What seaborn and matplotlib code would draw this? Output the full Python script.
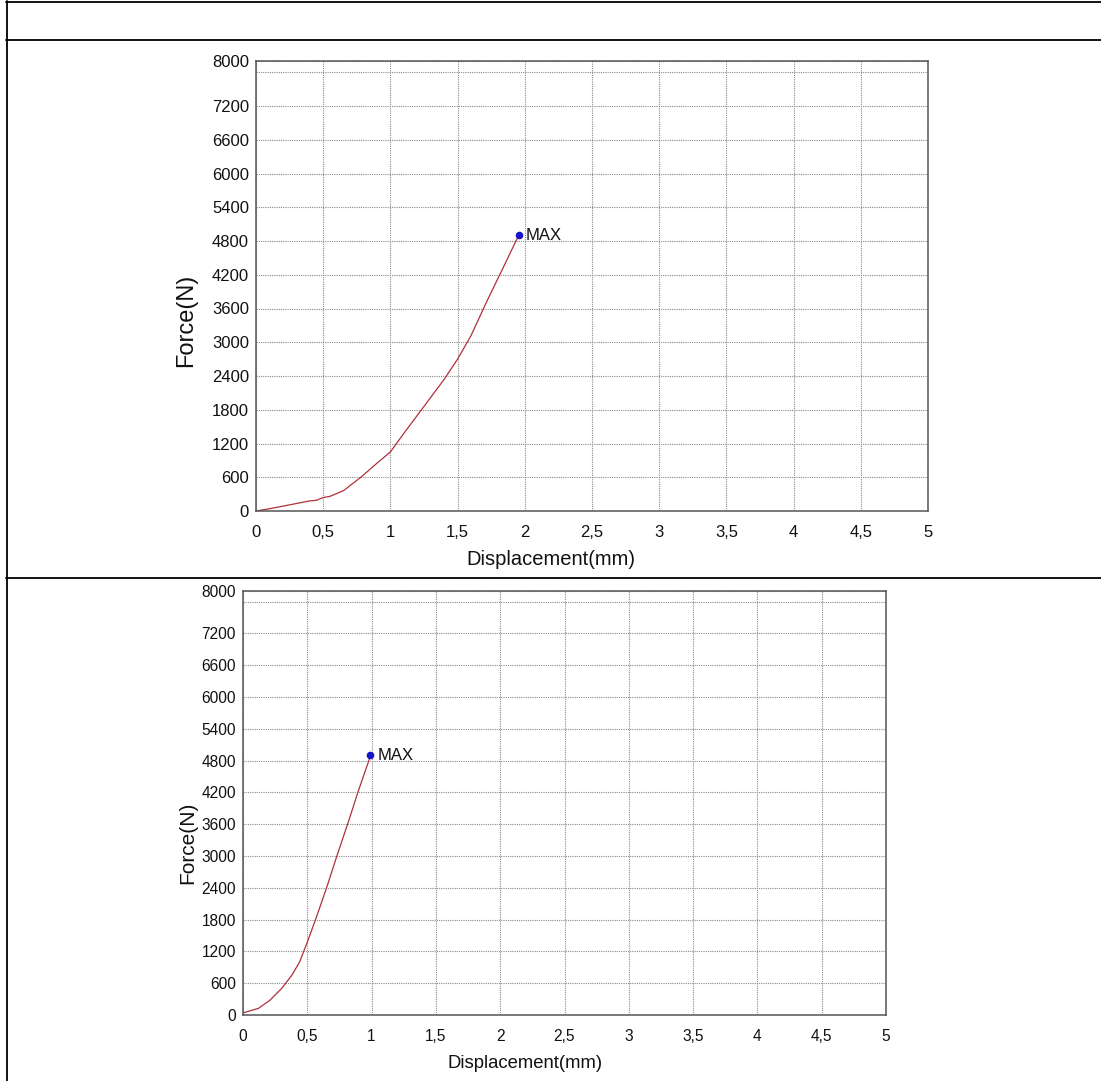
import numpy as np
import pandas as pd
import matplotlib
matplotlib.use("Agg")
import matplotlib.pyplot as plt
from matplotlib.lines import Line2D
import seaborn as sns

# ---- data ----
disp_1 = [0.0, 0.10, 0.23, 0.40, 0.45, 0.50, 0.55, 0.65, 0.78, 0.90, 1.00, 1.10,
          1.25, 1.40, 1.50, 1.60, 1.72, 1.85, 1.93, 1.955]
force_1 = [0, 40, 100, 180, 190, 240, 260, 360, 600, 850, 1050, 1380,
           1860, 2340, 2700, 3120, 3740, 4380, 4780, 4900]
max_1 = (1.955, 4900)

disp_2 = [0.0, 0.12, 0.21, 0.30, 0.38, 0.44, 0.50, 0.57, 0.65, 0.73, 0.82, 0.90, 0.98, 0.99]
force_2 = [40, 125, 280, 500, 750, 1000, 1375, 1840, 2400, 3000, 3650, 4250, 4810, 4900]
max_2 = (0.99, 4900)

y_tick_vals = [0, 600, 1200, 1800, 2400, 3000, 3600, 4200, 4800, 5400, 6000, 6600, 7200, 7800, 8000]
y_tick_labels = ["0", "600", "1200", "1800", "2400", "3000", "3600", "4200", "4800",
                 "5400", "6000", "6600", "7200", "", "8000"]
x_tick_vals = [0, 0.5, 1, 1.5, 2, 2.5, 3, 3.5, 4, 4.5, 5]
x_tick_labels = ["0", "0,5", "1", "1,5", "2", "2,5", "3", "3,5", "4", "4,5", "5"]

sns.set_theme(style="white")
plt.rcParams['font.family'] = ['Liberation Sans', 'DejaVu Sans']

W, H = 1101, 1081
fig = plt.figure(figsize=(W / 100, H / 100), dpi=100)
fig.patch.set_facecolor("white")

LINE_C = "#b0303a"
MARK_C = "#1414c8"
GRID_C = "#8a8a8a"
FRAME_C = "#555555"


def px_rect(l, t, r, b):
    return [l / W, 1 - b / H, (r - l) / W, (b - t) / H]


def make_chart(rect, disp, force, mx, tick_fs, xl_fs, yl_fs, xlab_pos, ylab_pos, xpad):
    ax = fig.add_axes(rect)
    df = pd.DataFrame({"Displacement": disp, "Force": force})
    sns.lineplot(data=df, x="Displacement", y="Force", ax=ax, color=LINE_C,
                 linewidth=0.9, sort=False, estimator=None)
    sns.scatterplot(x=[mx[0]], y=[mx[1]], ax=ax, color=MARK_C, s=30,
                    edgecolor=MARK_C, linewidth=0, zorder=5)
    ax.annotate("MAX", xy=mx, xytext=(5.3, 0), textcoords="offset points",
                va="center", ha="left", fontsize=12, color="#111111")
    ax.set_xlim(0, 5)
    ax.set_ylim(0, 8000)
    ax.set_xticks(x_tick_vals)
    ax.set_xticklabels(x_tick_labels)
    ax.set_yticks(y_tick_vals)
    ax.set_yticklabels(y_tick_labels)
    ax.tick_params(axis="both", which="both", length=0, labelsize=tick_fs, colors="#111111")
    ax.tick_params(axis="y", pad=5)
    ax.tick_params(axis="x", pad=xpad)
    ax.grid(True, which="major", axis="both", linestyle=(0, (1, 1)), color=GRID_C, linewidth=0.8)
    for s in ax.spines.values():
        s.set_color(FRAME_C)
        s.set_linewidth(1.1)
        s.set_visible(True)
    ax.set_xlabel("Displacement(mm)", fontsize=xl_fs, color="#111111")
    ax.set_ylabel("Force(N)", fontsize=yl_fs, color="#111111")
    ax.xaxis.set_label_coords(*xlab_pos)
    ax.yaxis.set_label_coords(*ylab_pos)
    return ax


make_chart(px_rect(256, 61, 928, 511), disp_1, force_1, max_1,
           tick_fs=12, xl_fs=14.5, yl_fs=17,
           xlab_pos=(0.439, -0.087), ylab_pos=(-0.088, 0.424), xpad=10)
make_chart(px_rect(243, 591, 886, 1015), disp_2, force_2, max_2,
           tick_fs=11.2, xl_fs=13.3, yl_fs=15,
           xlab_pos=(0.438, -0.094), ylab_pos=(-0.0715, 0.406), xpad=10)

# table borders
def hline(y, x0, x1):
    fig.add_artist(Line2D([x0 / W, x1 / W], [1 - y / H, 1 - y / H],
                          transform=fig.transFigure, color="black", linewidth=1.3))

def vline(x, y0, y1):
    fig.add_artist(Line2D([x / W, x / W], [1 - y0 / H, 1 - y1 / H],
                          transform=fig.transFigure, color="black", linewidth=1.3))

hline(1.8, 6.0, W)
hline(40.3, 6.0, W)
hline(577.8, 6.0, W)
vline(6.8, 1.0, H)

fig.savefig("out.png", dpi=100, facecolor="white")
